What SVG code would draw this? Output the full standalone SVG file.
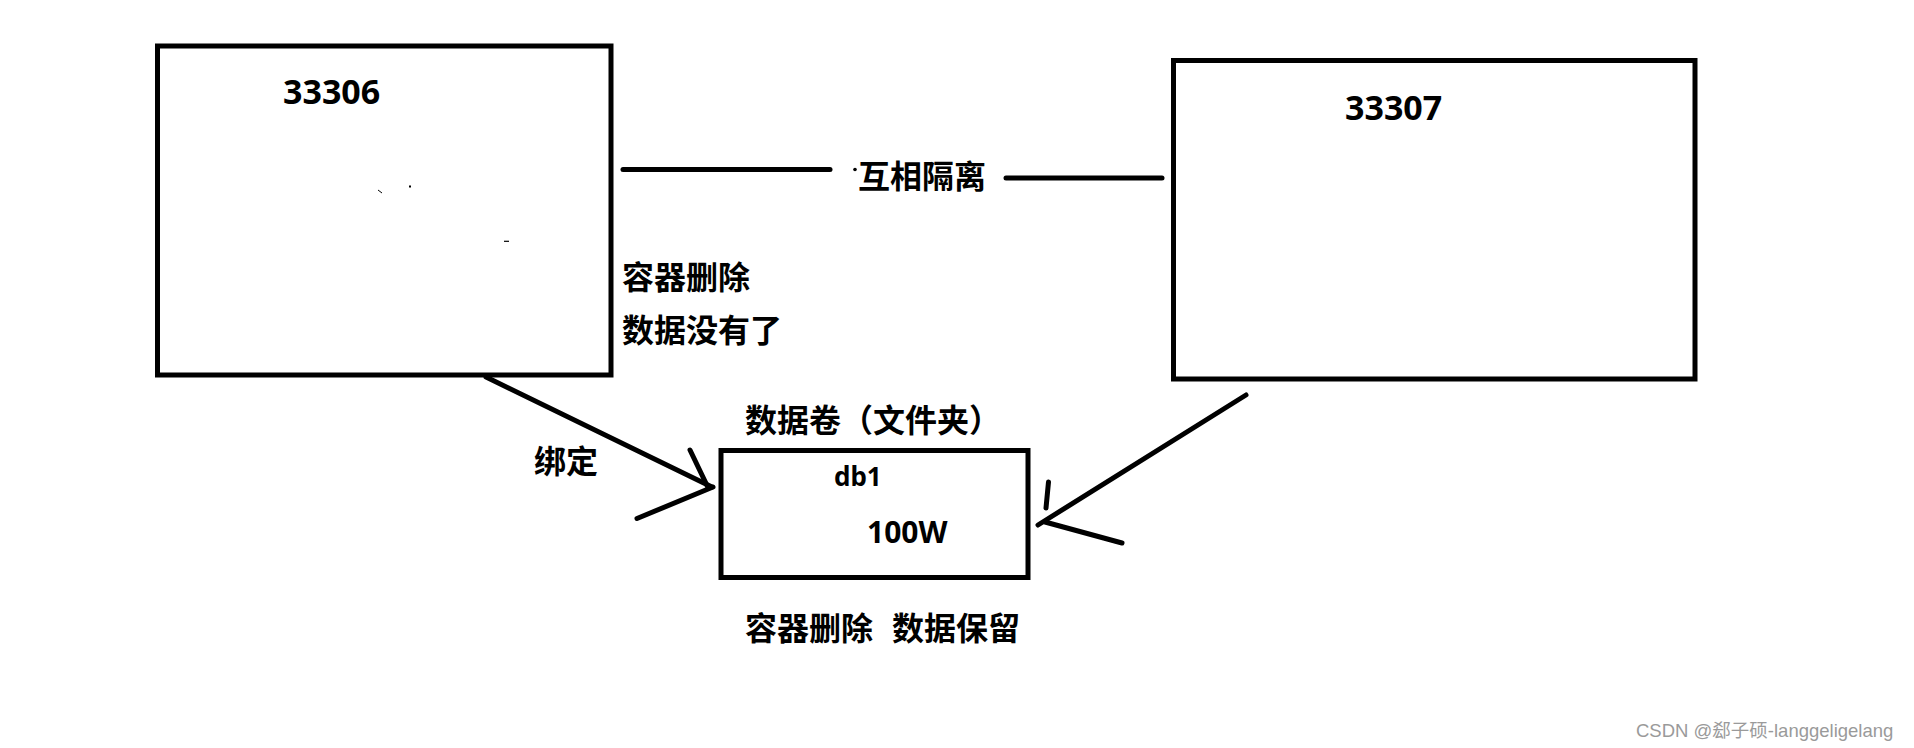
<svg xmlns="http://www.w3.org/2000/svg" width="1914" height="748" viewBox="0 0 1914 748">
<style>
.box{fill:none;stroke:#000;stroke-width:5}
.ln{fill:none;stroke:#000;stroke-width:5;stroke-linecap:round}
.cjk{font-family:"Noto Sans CJK SC","Noto Sans",sans-serif;font-weight:700;font-size:32px;fill:#000}
.num{font-family:"Noto Sans","Noto Sans CJK SC",sans-serif;font-weight:700;fill:#000}
.wm{font-family:"Liberation Sans","Noto Sans CJK SC",sans-serif;font-size:18.5px;fill:#9a9a9a}
</style>
<rect width="1914" height="748" fill="#fff"/>
<g id="container-33306">
<rect class="box" x="157.5" y="46" width="453.5" height="329"/>
<text class="num" x="283" y="104" font-size="34">33306</text>
<line x1="378" y1="190" x2="382" y2="193" stroke="#000" stroke-width="1"/>
<rect x="409" y="185.5" width="2" height="2" fill="#000"/>
<line x1="504" y1="241.3" x2="509" y2="241.3" stroke="#000" stroke-width="1.2"/>
</g>
<g id="container-33307">
<rect class="box" x="1173.5" y="60.5" width="521.5" height="318.5"/>
<text class="num" x="1345" y="120" font-size="34">33307</text>
</g>
<g id="volume">
<rect class="box" x="721" y="450.5" width="307" height="127"/>
<text class="num" x="834" y="486" font-size="26">db1</text>
<text class="num" x="867" y="543" font-size="30">100W</text>
</g>
<g id="connectors">
<line class="ln" x1="623" y1="169.5" x2="830" y2="169.5"/>
<circle cx="855" cy="169.5" r="1.8" fill="#000"/>
<line class="ln" x1="1006" y1="178" x2="1162" y2="178"/>
<line class="ln" x1="486" y1="377" x2="712" y2="487"/>
<line class="ln" x1="690" y1="450" x2="707.5" y2="486.5"/>
<line class="ln" x1="637" y1="518.5" x2="713" y2="487"/>
<line class="ln" x1="1246" y1="395" x2="1038" y2="525"/>
<line class="ln" x1="1048.5" y1="482" x2="1046" y2="508"/>
<line class="ln" x1="1045" y1="522" x2="1122" y2="543"/>
</g>
<g id="labels">
<text class="cjk" x="858" y="188">互相隔离</text>
<text class="cjk" x="622" y="289">容器删除</text>
<text class="cjk" x="622" y="342">数据没有了</text>
<text class="cjk" x="745" y="432">数据卷（文件夹）</text>
<text class="cjk" x="534" y="473">绑定</text>
<text class="cjk" x="745" y="640">容器删除<tspan x="892">数据保留</tspan></text>
</g>
<text class="wm" x="1636" y="737">CSDN @郄子硕-langgeligelang</text>
</svg>
